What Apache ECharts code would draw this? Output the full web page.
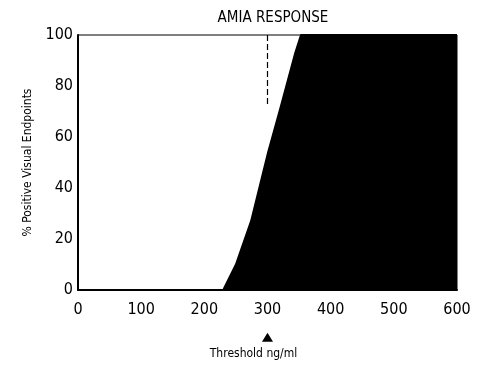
<!DOCTYPE html>
<html><head><meta charset="utf-8">
<script src="https://cdn.jsdelivr.net/npm/echarts@6/dist/echarts.min.js"></script>
<style>html,body{margin:0;padding:0;background:#fff}#c{width:485px;height:367px}</style>
</head><body><div id="c"></div>
<script>
const thresholds = [0, 230, 250, 274, 301, 320, 344, 353, 600];
const percentPositive = [0, 0, 10, 27, 54, 71, 93, 100, 100];
const xTicks = [0, 100, 200, 300, 400, 500, 600];
const yTicks = [0, 20, 40, 60, 80, 100];
const cutoffLine = [[300, 100], [300, 72]];
const cutoffMarker = [[300, -18.5]];
const FONT = "'Liberation Sans Narrow','DejaVu Sans Condensed','DejaVu Sans',sans-serif";

const chart = echarts.init(document.getElementById('c'), null, {renderer: 'canvas'});
chart.setOption({
  animation: false,
  backgroundColor: '#fff',
  title: {
    text: 'AMIA RESPONSE', left: 268, top: 6, textAlign: 'center',
    textStyle: {fontFamily: FONT, fontSize: 15, fontWeight: 'normal', color: '#000'}
  },
  grid: {left: 78, right: 28, top: 35, bottom: 77, show: true, borderColor: '#000', borderWidth: 1, backgroundColor: 'transparent'},
  xAxis: {
    type: 'value', min: xTicks[0], max: xTicks[xTicks.length - 1], interval: 100,
    name: 'Threshold ng/ml', nameLocation: 'middle', nameGap: 58,
    nameTextStyle: {fontFamily: FONT, fontSize: 12, color: '#000', padding: [0, 28, 0, 0]},
    axisLine: {show: true, lineStyle: {color: '#000', width: 2}},
    axisTick: {show: false},
    splitLine: {show: false},
    axisLabel: {fontFamily: FONT, fontSize: 16, color: '#000', margin: 12}
  },
  yAxis: {
    type: 'value', min: yTicks[0], max: yTicks[yTicks.length - 1], interval: 20,
    name: '% Positive Visual Endpoints', nameLocation: 'middle', nameGap: 44, nameRotate: 90,
    nameTextStyle: {fontFamily: FONT, fontSize: 12, color: '#000'},
    axisLine: {show: true, lineStyle: {color: '#000', width: 2}},
    axisTick: {show: false},
    splitLine: {show: false},
    axisLabel: {fontFamily: FONT, fontSize: 16, color: '#000', margin: 5}
  },
  series: [
    {
      type: 'line',
      data: thresholds.map((x, i) => [x, percentPositive[i]]),
      symbol: 'none',
      lineStyle: {color: '#000', width: 2},
      areaStyle: {color: '#000', opacity: 1},
      markLine: {
        silent: true, symbol: 'none', label: {show: false},
        lineStyle: {color: '#000', type: [6, 3], width: 1.2},
        data: [[{coord: cutoffLine[0]}, {coord: cutoffLine[1]}]]
      }
    },
    {
      type: 'scatter', data: cutoffMarker, symbol: 'triangle', symbolSize: [11, 9],
      itemStyle: {color: '#000', opacity: 1}, clip: false, silent: true
    }
  ]
});
</script></body></html>
